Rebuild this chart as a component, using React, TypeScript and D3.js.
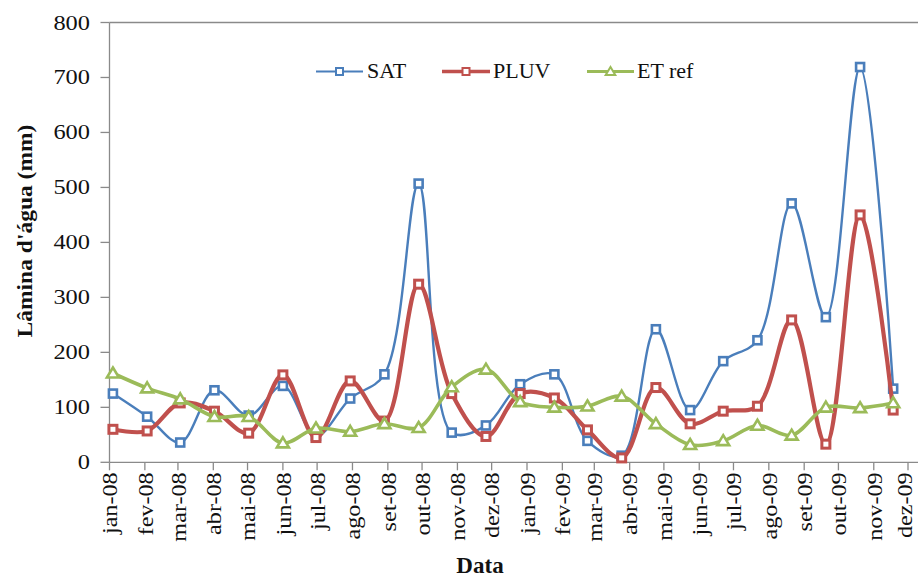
import React from "react";
import * as d3 from "d3";

// ---- data ----
const OBS_DATES = [
  "2008-01-04", "2008-02-03", "2008-03-03", "2008-04-02", "2008-05-02", "2008-06-01",
  "2008-06-30", "2008-07-30", "2008-08-29", "2008-09-28", "2008-10-27", "2008-11-26",
  "2008-12-26", "2009-01-25", "2009-02-23", "2009-03-25", "2009-04-24", "2009-05-24",
  "2009-06-22", "2009-07-22", "2009-08-21", "2009-09-20", "2009-10-20", "2009-11-18",
];
const SAT = [125, 83, 36, 131, 85, 139, 48, 116, 160, 507, 54, 67, 142, 160, 39, 12, 242, 95, 184, 222, 471, 264, 719, 134];
const PLUV = [60, 57, 108, 93, 53, 159, 45, 148, 75, 324, 125, 47, 125, 117, 59, 8, 136, 70, 93, 102, 259, 33, 450, 95];
const ETREF = [162, 135, 115, 83, 83, 35, 62, 56, 70, 63, 137, 169, 110, 100, 102, 120, 70, 32, 39, 67, 49, 100, 99, 108];
const MONTH_LABELS = [
  "jan-08", "fev-08", "mar-08", "abr-08", "mai-08", "jun-08", "jul-08", "ago-08", "set-08", "out-08", "nov-08", "dez-08",
  "jan-09", "fev-09", "mar-09", "abr-09", "mai-09", "jun-09", "jul-09", "ago-09", "set-09", "out-09", "nov-09", "dez-09",
];
const Y_TICKS = [0, 100, 200, 300, 400, 500, 600, 700, 800];
const SERIES_NAMES = ["SAT", "PLUV", "ET ref"];

// ---- layout ----
const W = 918;
const H = 584;
const LEFT = 109.5;
const RIGHT_TICK = 908;
const RIGHT_EDGE = 918;
const BOTTOM = 462.3;
const TOP = 22.5;
const AXIS_COLOR = "#8a8a8a";
const SERIF = "'Liberation Serif', 'Times New Roman', serif";

const parse = d3.timeParse("%Y-%m-%d");
const dates = OBS_DATES.map((s) => parse(s) as Date);
const tickDates = d3.timeMonth.range(new Date(2008, 0, 1), new Date(2010, 0, 1));

const x = d3.scaleTime().domain([new Date(2008, 0, 1), new Date(2009, 11, 1)]).range([LEFT, RIGHT_TICK]);
const y = d3.scaleLinear().domain([0, 800]).range([BOTTOM, TOP]);

const seriesStyle = [
  { values: SAT, color: "#4A7EBB", width: 2.4, marker: "square", mStroke: 2.6 },
  { values: PLUV, color: "#C0504D", width: 4.2, marker: "square", mStroke: 3 },
  { values: ETREF, color: "#9BBB59", width: 3.6, marker: "triangle", mStroke: 2.6 },
];

const line = d3
  .line<[Date, number]>()
  .x((d) => x(d[0]))
  .y((d) => y(d[1]))
  .curve(d3.curveCatmullRom.alpha(0.5));

function Marker({ kind, cx, cy, color, sw, size }: any) {
  if (kind === "square") {
    return (
      <rect x={cx - size / 2} y={cy - size / 2} width={size} height={size} fill="#fff" stroke={color} strokeWidth={sw} />
    );
  }
  const h = size * 0.95;
  const p = `${cx},${cy - h * 0.6} ${cx + size * 0.6},${cy + h * 0.45} ${cx - size * 0.6},${cy + h * 0.45}`;
  return <polygon points={p} fill="#fff" stroke={color} strokeWidth={sw} strokeLinejoin="miter" />;
}

const legendPos = [
  { x1: 316, x2: 363, tx: 367 },
  { x1: 442, x2: 490, tx: 493 },
  { x1: 587, x2: 634, tx: 637 },
];

export default function App() {
  return (
    <svg
      width={W}
      height={H}
      style={{ position: "absolute", left: 0, top: 0, background: "#fff" }}
      fontFamily={SERIF}
    >
      <rect x={0} y={0} width={W} height={H} fill="#fff" />
      {/* top border */}
      <line x1={LEFT} x2={RIGHT_EDGE} y1={y(800)} y2={y(800)} stroke={AXIS_COLOR} strokeWidth={1.3} />
      {/* y axis */}
      <line x1={LEFT} x2={LEFT} y1={TOP} y2={BOTTOM} stroke={AXIS_COLOR} strokeWidth={1.3} />
      {Y_TICKS.map((t) => (
        <g key={t}>
          <line x1={LEFT - 9} x2={LEFT} y1={y(t)} y2={y(t)} stroke={AXIS_COLOR} strokeWidth={1.3} />
          <text
            transform={`translate(90,${y(t)}) scale(1.22,1)`}
            textAnchor="end"
            dy="0.35em"
            fontSize={20}
            fill="#111"
          >
            {t}
          </text>
        </g>
      ))}
      {/* x axis */}
      <line x1={LEFT} x2={RIGHT_EDGE} y1={BOTTOM} y2={BOTTOM} stroke={AXIS_COLOR} strokeWidth={1.3} />
      {tickDates.map((d, i) => (
        <g key={i}>
          <line x1={x(d)} x2={x(d)} y1={BOTTOM} y2={BOTTOM + 8} stroke={AXIS_COLOR} strokeWidth={1.3} />
          <text
            transform={`translate(${Math.min(x(d) + 0.5, W - 13.5)},${BOTTOM + 10}) rotate(-90) scale(1.1,1)`}
            textAnchor="end"
            dy="0.33em"
            fontSize={22}
            fill="#111"
          >
            {MONTH_LABELS[i]}
          </text>
        </g>
      ))}
      {/* axis titles */}
      <text
        transform="translate(32,231) rotate(-90) scale(1.12,1)"
        textAnchor="middle"
        fontSize={21}
        fontWeight="bold"
        fill="#111"
      >
        Lâmina d'água (mm)
      </text>
      <text x={480} y={573} textAnchor="middle" fontSize={23} fontWeight="bold" fill="#111">
        Data
      </text>
      {/* series */}
      {seriesStyle.map((s, si) => {
        const pts = dates.map((d, i) => [d, s.values[i]] as [Date, number]);
        return (
          <g key={si}>
            <path d={line(pts) || ""} fill="none" stroke={s.color} strokeWidth={s.width} />
            {pts.map((p, i) => (
              <Marker
                key={i}
                kind={s.marker}
                cx={x(p[0])}
                cy={y(p[1])}
                color={s.color}
                sw={s.mStroke}
                size={s.marker === "square" ? 8 : 10}
              />
            ))}
          </g>
        );
      })}
      {/* legend */}
      {seriesStyle.map((s, si) => {
        const lp = legendPos[si];
        const cx = (lp.x1 + lp.x2) / 2;
        return (
          <g key={si}>
            <line x1={lp.x1} x2={lp.x2} y1={71.5} y2={71.5} stroke={s.color} strokeWidth={s.width * 0.85} />
            <Marker kind={s.marker} cx={cx} cy={71.5} color={s.color} sw={2} size={s.marker === "square" ? 7 : 8} />
            <text x={lp.tx} y={78} fontSize={22} fill="#111">
              {SERIES_NAMES[si]}
            </text>
          </g>
        );
      })}
    </svg>
  );
}
